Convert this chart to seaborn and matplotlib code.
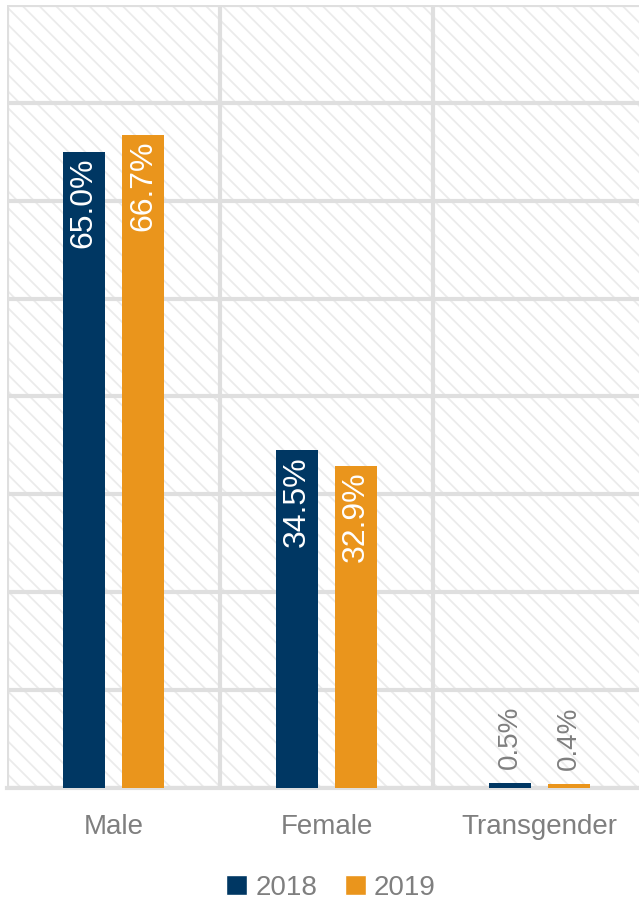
import pandas as pd
import numpy as np
import seaborn as sns
import matplotlib.pyplot as plt
from matplotlib.patches import Rectangle, Patch

genders = ['Male', 'Female', 'Transgender']
years = ['2018', '2019']
pct_2018 = [65.0, 34.5, 0.5]
pct_2019 = [66.7, 32.9, 0.4]

navy = '#003763'
orange = '#ea951c'
grey_txt = '#7f7f7f'
grid_col = '#dfdfdf'

df = pd.DataFrame({
    'gender': genders * 2,
    'year': [years[0]] * 3 + [years[1]] * 3,
    'pct': pct_2018 + pct_2019,
})

sns.set_style('white')
plt.rcParams['font.family'] = ['Liberation Sans', 'DejaVu Sans']
plt.rcParams['hatch.linewidth'] = 1.3
plt.rcParams['hatch.color'] = '#ebebeb'

fig = plt.figure(figsize=(6.39, 9.07), dpi=100)
ax = fig.add_axes([7 / 639, 1 - 788 / 907, 1.0, (788 - 5) / 907])

# hatched background
ax.add_patch(Rectangle((0, 0), 1, 1, transform=ax.transAxes, facecolor='white',
                       edgecolor='#ebebeb', hatch='\\\\', linewidth=0, zorder=0))

sns.barplot(data=df, x='gender', y='pct', hue='year', palette=[navy, orange],
            saturation=1, width=0.557, gap=0.3, ax=ax, legend=False, zorder=3, linewidth=0)

ax.set_xlim(-0.5, 2.5)
ax.set_ylim(0, 80)
ax.set_yticks(np.arange(0, 81, 10))
ax.set_yticklabels([])
ax.tick_params(axis='y', length=0)
ax.set_xticks([0, 1, 2])
ax.set_xticks([-0.5, 0.5, 1.5], minor=True)
ax.tick_params(axis='x', which='both', length=0, labelsize=20, colors=grey_txt, pad=19)
ax.grid(axis='y', color=grid_col, linewidth=3)
ax.grid(axis='x', which='minor', color=grid_col, linewidth=3)
ax.grid(axis='x', which='major', visible=False)
ax.set_axisbelow(True)
ax.set_xlabel('')
ax.set_ylabel('')
for s in ['top', 'right', 'left']:
    ax.spines[s].set_visible(False)
ax.spines['bottom'].set_color(grid_col)
ax.spines['bottom'].set_linewidth(3)

# value labels
for bar in ax.patches:
    if bar.get_width() >= 1:
        continue
    h = bar.get_height()
    xc = bar.get_x() + bar.get_width() / 2
    txt = f'{h:.1f}%'
    if h > 5:
        ax.annotate(txt, (xc, h), xytext=(0, -4), textcoords='offset points',
                    rotation=90, ha='center', va='top', color='white', fontsize=23, zorder=4)
    else:
        ax.annotate(txt, (xc, h), xytext=(0, 10), textcoords='offset points',
                    rotation=90, ha='center', va='bottom', color=grey_txt, fontsize=20, zorder=4)

handles = [Patch(facecolor=navy, label=years[0]), Patch(facecolor=orange, label=years[1])]
fig.legend(handles=handles, loc='center', bbox_to_anchor=(0.518, 1 - 888 / 907), ncol=2,
           frameon=False, fontsize=20, labelcolor=grey_txt, handlelength=0.75, handleheight=0.75,
           handletextpad=0.3, columnspacing=1.0)

fig.savefig('out.png', dpi=100)
